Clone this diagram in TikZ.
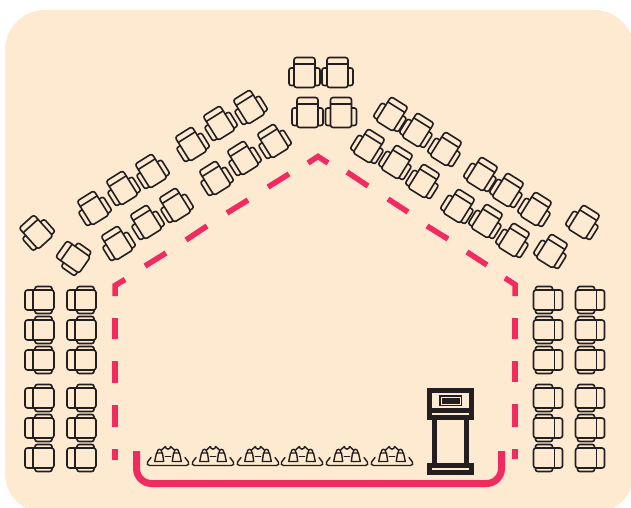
\documentclass[tikz,border=0pt]{standalone}
\definecolor{bgcream}{RGB}{254,233,209}
\definecolor{ink}{RGB}{35,31,32}
\definecolor{pinkline}{RGB}{241,43,95}
\tikzset{
  x=1pt,y=-1pt,
  inkline/.style={draw=ink,line width=1.6pt,line join=round,line cap=round},
  thinink/.style={draw=ink,line width=1.4pt,line join=round,line cap=round},
  pinkdash/.style={draw=pinkline,line width=5.5pt,line join=miter},
  chairseat/.pic={
    \draw[inkline,rounded corners=2.5pt] (-10.5,-15) rectangle (10.5,15);
    \draw[inkline] (-10.5,-8.5) -- (10.5,-8.5);
    \draw[inkline,rounded corners=2.2pt] (-10.5,-4.5) -- (-15.5,-4.5) -- (-15.5,13) -- (-10.5,13);
    \draw[inkline,rounded corners=2.2pt] (10.5,-4.5) -- (15.5,-4.5) -- (15.5,13) -- (10.5,13);
  },
  sideseat/.pic={
    \draw[inkline,rounded corners=2.5pt] (-10,-14.5) rectangle (10,14.5);
    \draw[inkline] (-10,-6.5) -- (10,-6.5);
    \draw[inkline,rounded corners=2.2pt] (-10,-4.5) -- (-13.5,-4.5) -- (-13.5,12.5) -- (-10,12.5);
    \draw[inkline,rounded corners=2.2pt] (10,-4.5) -- (13.5,-4.5) -- (13.5,12.5) -- (10,12.5);
  },
  delegates/.pic={
    \draw[thinink,rounded corners=1.5pt] (-17,-8) -- (-21.3,-2.3) -- (-20,0) -- (20,0) -- (21.3,-2.3) -- (17,-8);
    \draw[thinink] (-11.5,-12.5) -- (-5.5,-12.5) -- (-4.3,-4) -- (-13.3,-4) -- cycle;
    \draw[thinink] (5.5,-12.5) -- (11.5,-12.5) -- (13.3,-4) -- (4.3,-4) -- cycle;
    \draw[thinink] (-2.7,-9) -- (2.7,-9);
    \draw[thinink] (-11,-12.5) .. controls (-11,-17.5) and (-6,-17.5) .. (-6,-12.5);
    \draw[thinink] (6,-12.5) .. controls (6,-17.5) and (11,-17.5) .. (11,-12.5);
    \draw[thinink] (-6.5,-15.5) -- (-2.6,-19) (6.5,-15.5) -- (2.6,-19);
    \draw[thinink] (-2.6,-19) arc[start angle=180,end angle=0,radius=2.6];
  }
}
\begin{document}
\begin{tikzpicture}
\useasboundingbox (0,0) rectangle (631,508);
\fill[white] (0,0) rectangle (631,508);
\begin{scope}
\clip (0,0) rectangle (631,508);
\fill[bgcream,rounded corners=40pt] (5,10) rectangle (634,513);
\end{scope}
% top chairs
\foreach \cx/\cy in {304.5/72.5, 337.5/72.5, 307.5/112.5, 341/112.5}
  {\pic at (\cx,\cy) {chairseat};}
% angled rows
\foreach \cx/\cy/\ca in {
 36/232/42, 73/257/55,
 93/208/32, 122/188/32, 151/171/32, 117/243/32, 146/222/32, 175/205/32,
 191/144/32, 219/123/32, 249/107/32, 215/178/32, 243/158/32, 273/141/32,
 392/114/-32, 418/130/-32, 446/149/-32, 369/146/-32, 397/162/-32, 424/181/-32,
 482/174/-32, 508/190/-32, 536/209/-32, 459/206/-32, 487/221/-32, 514/240/-32,
 552/251/-32, 584/222/-32}
  {\pic[rotate=\ca,scale=.95] at (\cx,\cy) {chairseat};}
% side columns
\foreach \cy in {300,330,360,398,428,458}{
  \pic[rotate=90] at (39.5,\cy) {sideseat};
  \pic[rotate=90] at (81.5,\cy) {sideseat};
  \pic[rotate=-90] at (548,\cy) {sideseat};
  \pic[rotate=-90] at (590,\cy) {sideseat};
}
% pink boundary
\draw[pinkline,line width=7pt,rounded corners=15pt] (136.5,451) -- (136.5,483.5) -- (501.5,483.5) -- (501.5,451);
\draw[pinkdash] (125,279.5) -- (115,285.5) -- (115,296);
\foreach \ax/\ay/\bx/\by in {115/318/115/339, 115/361/115/383, 115/405/115/427, 115/449/115/460,
  515/318/515/339, 515/361/515/382, 515/404/515/427, 515/449/515/459,
  145/266/166/253, 186/240/207/226, 227/213/248/200, 268/187/289/174,
  347/172/368/186, 388/199/408/212, 427/226/448/239, 467/252/487/265}
  {\draw[pinkdash] (\ax,\ay) -- (\bx,\by);}
\draw[pinkdash] (308,163) -- (318,156.5) -- (328,163);
\draw[pinkdash] (505,278) -- (515,284.5) -- (515,296);
% delegates
\foreach \dx in {168,213,258,302,347,392}
  {\pic at (\dx,465.5) {delegates};}
% lectern
\fill[ink] (427,388) rectangle (474,420);
\fill[bgcream] (432,393) rectangle (469,408);
\fill[ink] (439,395) rectangle (462,406);
\draw[bgcream,line width=.8pt] (441,397) rectangle (460,404);
\fill[bgcream] (432,413) rectangle (469,415);
\fill[ink] (432,420) rectangle (437,463);
\fill[ink] (464,420) rectangle (469,463);
\fill[ink] (427,463) rectangle (474,475);
\fill[bgcream] (432,468) rectangle (469,470);
\end{tikzpicture}
\end{document}
